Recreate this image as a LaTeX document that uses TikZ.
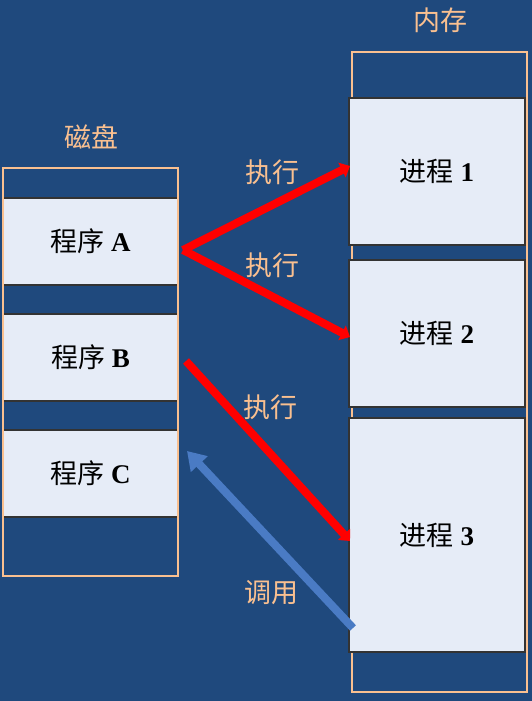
\documentclass[tikz,border=0pt]{standalone}
\usepackage{fontspec}
\setmainfont{Liberation Serif}
\newfontfamily\cjk{Noto Sans CJK SC}
\usetikzlibrary{arrows.meta}
\definecolor{bgblue}{HTML}{1F497D}
\definecolor{peach}{HTML}{FAC090}
\definecolor{boxfill}{HTML}{E6ECF7}
\definecolor{callblue}{HTML}{4A7BC4}
\begin{document}
\begin{tikzpicture}[x=1pt,y=-1pt,
		lbl/.style={text=peach,font=\cjk\fontsize{27}{27}\selectfont},
		prog/.style={fill=boxfill,draw=black!80,line width=1.2pt,minimum width=174pt,inner sep=0pt,font=\fontsize{27}{27}\selectfont},
		exec/.style={red,line width=8pt,-{Triangle[length=9pt,width=16pt]}},
		call/.style={callblue,line width=8pt,-{Triangle[length=18pt,width=22pt]}}]
	\fill[bgblue] (0,0) rectangle (532,701);
	\useasboundingbox (0,0) rectangle (532,701);
	%%%%%%%% disque
	\node[lbl] (disk) at (91,137) {磁盘};
	\node[prog,minimum height=87pt] (progA) at (90.5,241.5) {{\cjk 程序} \textbf{A}};
	\node[prog,minimum height=87pt] (progB) at (90.5,357.5) {{\cjk 程序} \textbf{B}};
	\node[prog,minimum height=87pt] (progC) at (90.5,473.5) {{\cjk 程序} \textbf{C}};
	\draw[peach,line width=2.5pt] (3,168) rectangle (178,576);
	%%%%%%%% memoire
	\node[lbl] (mem) at (440,20) {内存};
	\draw[peach,line width=2.5pt] (352,52) rectangle (527,692);
	\node[prog,minimum width=176pt,minimum height=147pt] (proc1) at (437,171.5) {{\cjk 进程} \textbf{1}};
	\node[prog,minimum width=176pt,minimum height=147pt] (proc2) at (437,333.5) {{\cjk 进程} \textbf{2}};
	\node[prog,minimum width=176pt,minimum height=234pt] (proc3) at (437,535) {{\cjk 进程} \textbf{3}};
	%%%%%%%% fleches
	\coordinate (fork) at (183,250);
	\coordinate (outB) at (186,361);
	\coordinate (inC) at (187,451);
	\coordinate (in1) at (350,166);
	\coordinate (in2) at (350,337);
	\coordinate (in3) at (350,541);
	\coordinate (out3) at (353,628);
	\draw[exec] (fork)--(in1);
	\draw[exec] (fork)--(in2);
	\draw[exec] (outB)--(in3);
	\draw[call] (out3)--(inC);
	\node[lbl] (run1) at (272,172) {执行};
	\node[lbl] (run2) at (272,265) {执行};
	\node[lbl] (run3) at (270,407) {执行};
	\node[lbl] (callC) at (271,593) {调用};
\end{tikzpicture}
\end{document}
